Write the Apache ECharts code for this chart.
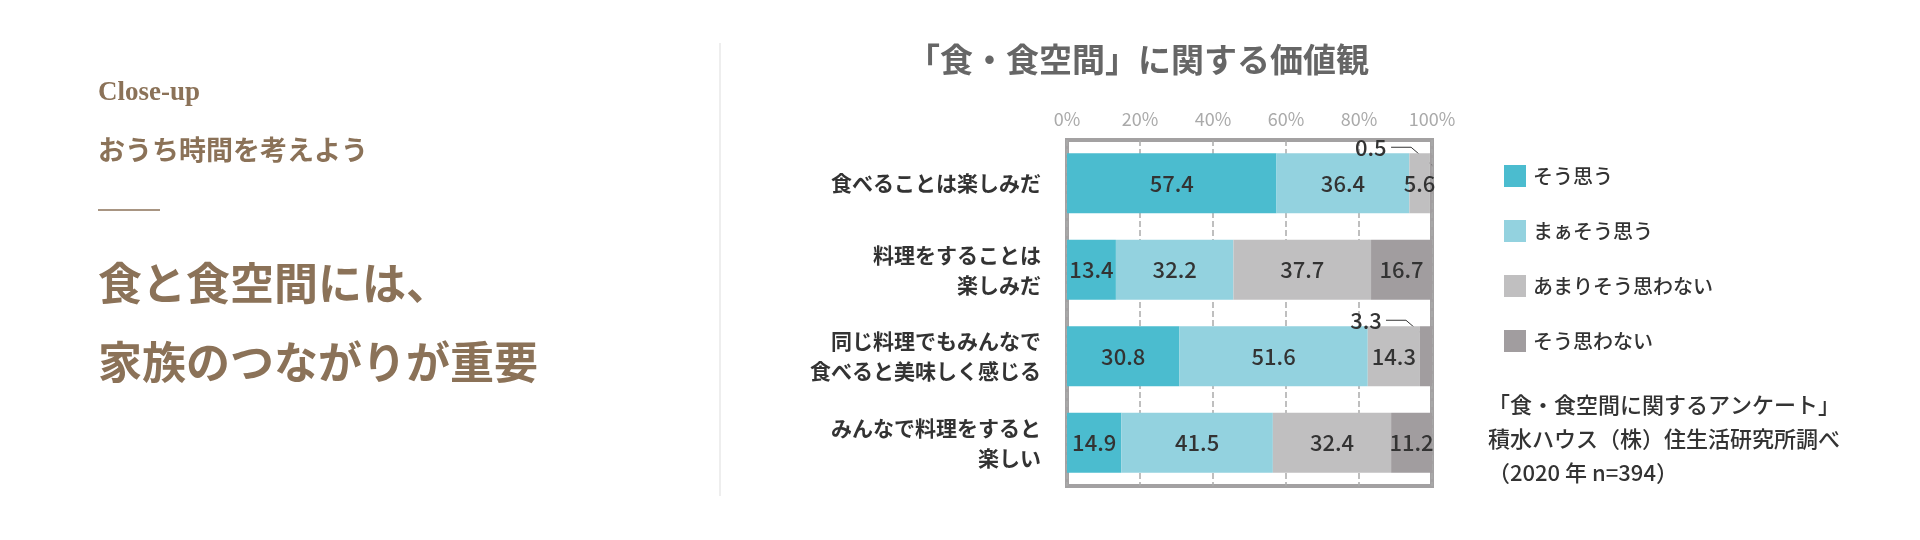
<!DOCTYPE html>
<html>
<head>
<meta charset="utf-8">
<script src="https://cdn.jsdelivr.net/npm/echarts@6/dist/echarts.min.js"></script>
<style>
html,body{margin:0;padding:0;background:#fff}
#main{width:1920px;height:540px}
</style>
</head>
<body>
<div id="main"></div>
<script>
let categories = ['食べることは楽しみだ', '料理をすることは\n楽しみだ', '同じ料理でもみんなで\n食べると美味しく感じる', 'みんなで料理をすると\n楽しい']
let seriesNames = ['そう思う', 'まぁそう思う', 'あまりそう思わない', 'そう思わない']
let agree = [57.4, 13.4, 30.8, 14.9]
let mostly = [36.4, 32.2, 51.6, 41.5]
let notMuch = [5.6, 37.7, 14.3, 32.4]
let disagree = [0.5, 16.7, 3.3, 11.2]
let colors = ['#4bbccf', '#93d2df', '#c0bfc0', '#a19d9f']
let font = '"Noto Sans CJK JP", "Noto Sans", sans-serif'
let brown = '#8b7258'

let chart = echarts.init(document.getElementById('main'))

function makeSeries(i, data) {
  return {
    name: seriesNames[i],
    type: 'bar',
    stack: 'all',
    barWidth: 60,
    itemStyle: { color: colors[i] },
    label: {
      show: true, position: 'inside', color: '#333', fontSize: 22, fontWeight: 500, fontFamily: font,
      formatter: p => p.value.toFixed(1)
    },
    data: data.map(v => {
      if (v < 5 && i === 3) {
        return { value: v, label: { position: 'top', offset: [-60, 10] } }
      }
      return v
    })
  }
}

let option = {
  animation: false,
  textStyle: { fontFamily: font },
  title: {
    text: '「食・食空間」に関する価値観', left: 1133, top: 38, textAlign: 'center',
    textStyle: { fontSize: 33, fontWeight: 'bold', color: '#666', fontFamily: font }
  },
  legend: {
    orient: 'vertical', left: 1499, top: 160, itemWidth: 22, itemHeight: 22, itemGap: 33,
    icon: 'rect',
    textStyle: { fontSize: 20, color: '#333', fontWeight: 500, padding: [0, 0, 0, 2] },
    data: seriesNames
  },
  grid: {
    left: 1067, right: 488, top: 140, bottom: 54,
    show: true, borderColor: '#a3a1a2', borderWidth: 4
  },
  xAxis: {
    type: 'value', position: 'top', min: 0, max: 100, interval: 20,
    axisLabel: { formatter: '{value}%', color: '#aaa', fontSize: 18, margin: 12 },
    axisLine: { show: false }, axisTick: { show: false },
    splitLine: { lineStyle: { type: 'dashed', color: '#aaa', width: 1.5 } }
  },
  yAxis: {
    type: 'category', inverse: true, data: categories,
    axisLine: { show: false }, axisTick: { show: false },
    axisLabel: { color: '#333', fontSize: 21, fontWeight: 'bold', margin: 26, lineHeight: 30, align: 'right' }
  },
  series: [makeSeries(0, agree), makeSeries(1, mostly), makeSeries(2, notMuch), makeSeries(3, disagree)],
  graphic: [
    { type: 'text', left: 98, top: 80, style: { text: 'Close-up', font: 'bold 27px "Liberation Serif", serif', fill: brown } },
    { type: 'text', left: 98, top: 136, style: { text: 'おうち時間を考えよう', font: 'bold 27px ' + font, fill: brown } },
    { type: 'line', shape: { x1: 98, y1: 210, x2: 160, y2: 210 }, style: { stroke: brown, lineWidth: 1.5 } },
    { type: 'text', left: 98, top: 261, style: { text: '食と食空間には、', font: 'bold 44px ' + font, fill: brown } },
    { type: 'text', left: 98, top: 340, style: { text: '家族のつながりが重要', font: 'bold 44px ' + font, fill: brown } },
    { type: 'line', shape: { x1: 720, y1: 43, x2: 720, y2: 496 }, style: { stroke: '#ddd', lineWidth: 1 } },
    { type: 'text', left: 1488, top: 388, style: { text: '「食・食空間に関するアンケート」\n積水ハウス（株）住生活研究所調べ\n（2020 年 n=394）', font: '500 22px ' + font, fill: '#333', lineHeight: 34 } }
  ]
}
chart.setOption(option)

// leader lines for the small values placed above the bar
let lines = []
disagree.forEach((v, idx) => {
  if (v < 5) {
    let end = chart.convertToPixel({ seriesIndex: 3 }, [100 - v / 2, idx])
    let top = end[1] - 30
    lines.push({
      type: 'polyline',
      shape: { points: [[end[0] - 40, top - 6], [end[0] - 20, top - 6], [end[0] + 1, top + 12]] },
      style: { stroke: '#333', lineWidth: 1, fill: null }
    })
  }
})
chart.setOption({ graphic: option.graphic.concat(lines) })
</script>
</body>
</html>
